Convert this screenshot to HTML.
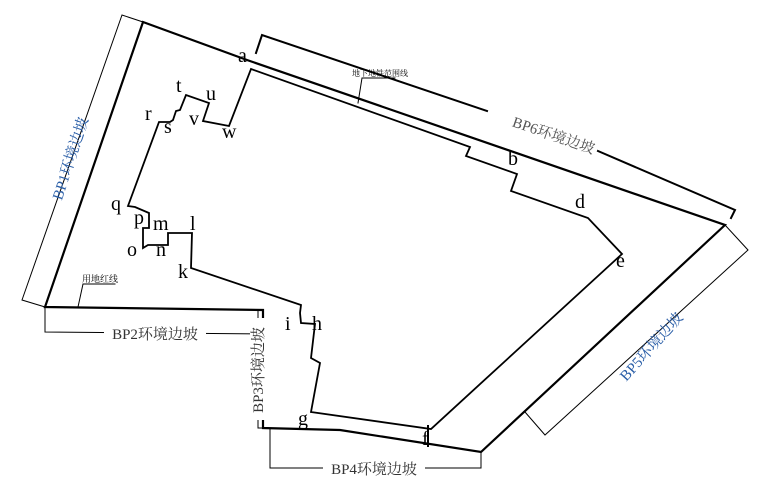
<!DOCTYPE html>
<html><head><meta charset="utf-8"><style>
html,body{margin:0;padding:0;background:#fff;}
svg{display:block;}
text{font-family:"Liberation Serif","Noto Serif CJK SC",serif;}
.l{font-size:20px;fill:#000;}
.c{font-family:"Liberation Serif","Noto Serif CJK SC",serif;font-size:15px;fill:#333;}
</style></head><body>
<svg width="765" height="492" viewBox="0 0 765 492">
<g fill="none" stroke="#000" stroke-linecap="square">
<polyline stroke-width="2.2" points="143,22 247,60 725,225 481,452 340,430 263,428 263,310 45,307 143,22"/>
<polyline stroke-width="1.8" points="251,69 470,147 466,156 517,174 511,191 588,218 622,254 431,429 311,412 320,363 311,358 315,324 301,323 300,313 301,305 191,268 192,233 168,233 168,245 148,245 143,248 143,228 149,228 149,213 135,207 128,206 159,122 170,122 173,120 176,111 180,110 186,95 209,103 203,121 229,126 251,69"/>
<polyline stroke-width="2" points="256,53 262,35 487,111"/>
<polyline stroke-width="2" points="598,151 735,210 731,218"/>
<polyline stroke-width="1" points="143,22 122,15 22,300 45,307"/>
<polyline stroke-width="1" points="725,225 748,250 545,435 525,412"/>
<polyline stroke-width="1" points="45,307 45,332 263,334"/>
<polyline stroke-width="1" points="263,310 258,310 258,428 263,428"/>
<polyline stroke-width="1" points="270,428 270,468 481,468 481,452"/>
<polyline stroke-width="1" points="78,307 83,284 115,284"/>
<polyline stroke-width="1" points="358,103 362,78 395,78"/>
<line x1="428" y1="426" x2="428" y2="446" stroke-width="2"/>
</g>
<text class="l" x="238" y="62">a</text>
<text class="l" x="508" y="165">b</text>
<text class="l" x="575" y="208">d</text>
<text class="l" x="616" y="267">e</text>
<text class="l" x="422" y="445">f</text>
<text class="l" x="298" y="425">g</text>
<text class="l" x="312" y="330">h</text>
<text class="l" x="285" y="330">i</text>
<text class="l" x="178" y="278">k</text>
<text class="l" x="190" y="230">l</text>
<text class="l" x="153" y="230">m</text>
<text class="l" x="156" y="256">n</text>
<text class="l" x="127" y="256">o</text>
<text class="l" x="134" y="224">p</text>
<text class="l" x="111" y="210">q</text>
<text class="l" x="145" y="120">r</text>
<text class="l" x="164" y="133">s</text>
<text class="l" x="176" y="92">t</text>
<text class="l" x="206" y="100">u</text>
<text class="l" x="189" y="125">v</text>
<text class="l" x="222" y="138">w</text>
<text style="font-size:8px" x="352" y="76">地下地铁范围线</text>
<text style="font-size:9px" x="82" y="282">用地红线</text>
<text class="c" transform="translate(552,140) rotate(19)" text-anchor="middle" style="fill:#555">BP6环境边坡</text>
<rect x="104" y="325" width="102" height="16" fill="#fff"/>
<text class="c" x="155" y="339" text-anchor="middle">BP2环境边坡</text>
<rect x="323" y="460" width="102" height="16" fill="#fff"/>
<text class="c" x="374" y="474" text-anchor="middle">BP4环境边坡</text>
<rect x="250" y="318" width="15" height="102" fill="#fff"/>
<text class="c" transform="translate(263,370) rotate(-90)" text-anchor="middle">BP3环境边坡</text>
<text class="c" transform="translate(75,160) rotate(-72)" text-anchor="middle" style="fill:#2b5fa8">BP1环境边坡</text>
<text class="c" transform="translate(655,350) rotate(-48)" text-anchor="middle" style="fill:#2b5fa8">BP5环境边坡</text>
</svg>
</body></html>
